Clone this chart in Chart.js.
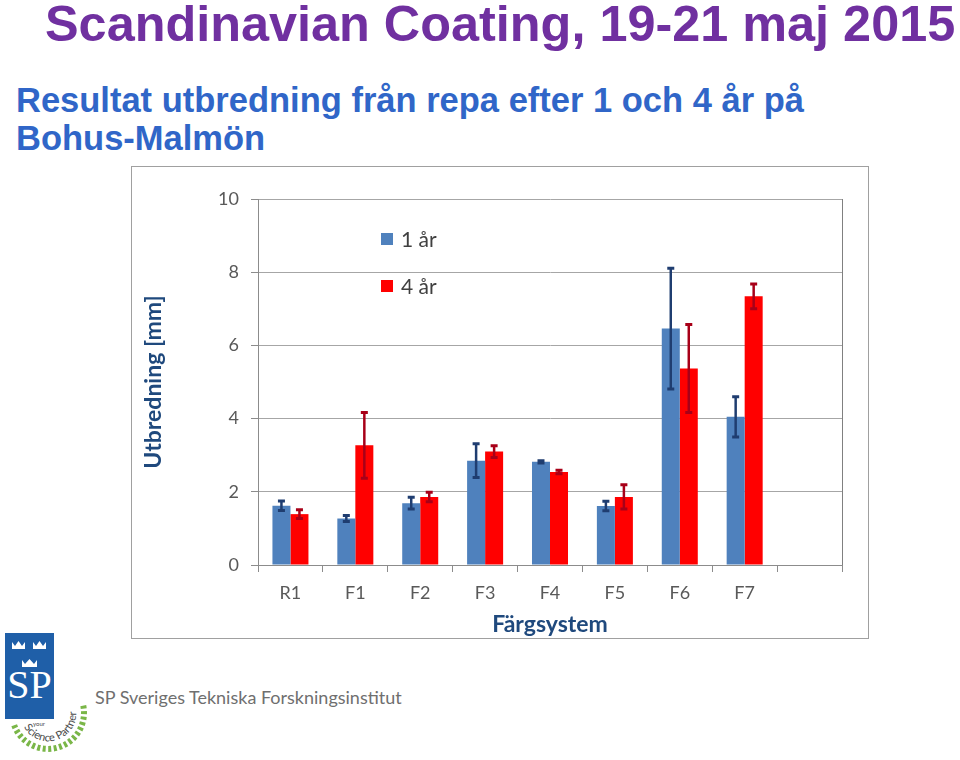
<!DOCTYPE html>
<html>
<head>
<meta charset="utf-8">
<script src="https://cdn.jsdelivr.net/npm/chart.js@4.4.0/dist/chart.umd.min.js"></script>
<style>
    body { margin: 0; width: 960px; height: 760px; background: #fff; position: relative; overflow: hidden;
           font-family: "Liberation Sans", Arial, sans-serif; }
    #title { position: absolute; left: 45px; top: -1px; margin: 0; font-size: 50.4px; line-height: 50px;
             font-weight: bold; color: #7030A0; white-space: nowrap; }
    #subtitle { position: absolute; left: 16px; top: 81px; margin: 0; font-size: 34.5px; line-height: 38px;
                font-weight: bold; color: #3066C8; }
    #chart-box { position: absolute; left: 131px; top: 166px; width: 736px; height: 471px;
                 border: 1px solid #a0a0a0; }
    #logo { position: absolute; left: 0; top: 625px; }
    #org { position: absolute; left: 95px; top: 686px; font-family: Lato, sans-serif; font-size: 18px;
           color: #6f6f6f; white-space: nowrap; }
</style>
</head>
<body>
<h1 id="title">Scandinavian Coating, 19-21 maj 2015</h1>
<h2 id="subtitle">Resultat utbredning från repa efter 1 och 4 år på<br>Bohus-Malmön</h2>
<div id="chart-box"><canvas id="spread-chart" width="736" height="471"></canvas></div>

<svg id="logo" width="95" height="135" xmlns="http://www.w3.org/2000/svg">
    <rect x="5" y="8" width="49" height="86" fill="#1f5fa8"/>
    <g fill="#fff">
        <path d="M12 24 L12 17 L15 21 L18.5 16 L22 21 L25 17 L25 24 Z"/>
        <path d="M33 24 L33 17 L36 21 L39.5 16 L43 21 L46 17 L46 24 Z"/>
        <path d="M22 42 L22 35 L25 39 L29.5 34 L34 39 L37 35 L37 42 Z"/>
    </g>
    <text x="29.5" y="73" fill="#fff" font-family="Liberation Serif, serif" font-size="40"
          text-anchor="middle">SP</text>
    <defs>
        <path id="arc" d="M 23.8 102 A 28 28 0 1 0 69.4 70"/>
    </defs>
    <text font-family="Lato, sans-serif" font-size="11" fill="#4a4a4a">
        <textPath href="#arc">Science Partner</textPath>
    </text>
    <text x="33" y="101" font-family="Lato, sans-serif" font-size="6" fill="#4a4a4a">your</text>
    <path d="M 14.2 100.3 A 36 36 0 0 0 82.8 78.7" fill="none" stroke="#7ab648" stroke-width="6"
          stroke-dasharray="3 2.5"/>
</svg>
<div id="org">SP Sveriges Tekniska Forskningsinstitut</div>

<script>
// Chart data
const categories = ['R1', 'F1', 'F2', 'F3', 'F4', 'F5', 'F6', 'F7', ''];
const seriesNames = ['1 år', '4 år'];
const values1yr = [1.62, 1.27, 1.69, 2.85, 2.82, 1.61, 6.46, 4.05, null];
const values4yr = [1.39, 3.27, 1.86, 3.10, 2.54, 1.86, 5.37, 7.34, null];
const errors1yr = [0.13, 0.08, 0.16, 0.46, 0.03, 0.13, 1.65, 0.55, null];
const errors4yr = [0.12, 0.90, 0.13, 0.16, 0.05, 0.33, 1.20, 0.34, null];
const yTicks = [0, 2, 4, 6, 8, 10];

const tickFont = { family: 'Lato', size: 18 };
const titleFont = { family: 'Lato', size: 23, weight: 'bold' };

/**
 * Draws symmetric error bars on top of every bar
 */
const errorBarPlugin = {
    id: 'errorBars',
    afterDatasetsDraw(chart) {
        const ctx = chart.ctx;
        const yScale = chart.scales.y;
        chart.data.datasets.forEach((ds, i) => {
            const meta = chart.getDatasetMeta(i);
            meta.data.forEach((bar, j) => {
                const v = ds.data[j];
                const e = ds.errors[j];
                if (v == null || e == null) return;
                const top = yScale.getPixelForValue(v + e);
                const bottom = yScale.getPixelForValue(v - e);
                ctx.save();
                ctx.strokeStyle = ds.errorColor;
                ctx.lineWidth = 2.5;
                ctx.beginPath();
                ctx.moveTo(bar.x, top);
                ctx.lineTo(bar.x, bottom);
                ctx.stroke();
                ctx.lineWidth = 3;
                ctx.beginPath();
                ctx.moveTo(bar.x - 3.5, top);
                ctx.lineTo(bar.x + 3.5, top);
                ctx.moveTo(bar.x - 3.5, bottom);
                ctx.lineTo(bar.x + 3.5, bottom);
                ctx.stroke();
                ctx.restore();
            });
        });
    }
};

/**
 * Legend drawn inside the plot area, top left
 */
const insideLegendPlugin = {
    id: 'insideLegend',
    afterDraw(chart) {
        const { ctx, chartArea } = chart;
        chart.data.datasets.forEach((ds, i) => {
            const x = chartArea.left + 123;
            const y = chartArea.top + 40 + i * 47;
            ctx.save();
            ctx.fillStyle = ds.backgroundColor;
            ctx.fillRect(x, y - 6, 12, 12);
            ctx.fillStyle = '#404040';
            ctx.font = '21px Lato';
            ctx.textBaseline = 'middle';
            ctx.fillText(ds.label, x + 20, y + 1);
            ctx.restore();
        });
    }
};

new Chart(document.getElementById('spread-chart').getContext('2d'), {
    type: 'bar',
    data: {
        labels: categories,
        datasets: [
            {
                label: seriesNames[0],
                data: values1yr,
                errors: errors1yr,
                errorColor: '#1f3d70',
                backgroundColor: '#4f81bd',
                categoryPercentage: 0.555,
                barPercentage: 1.0
            },
            {
                label: seriesNames[1],
                data: values4yr,
                errors: errors4yr,
                errorColor: '#a80018',
                backgroundColor: '#ff0000',
                categoryPercentage: 0.555,
                barPercentage: 1.0
            }
        ]
    },
    options: {
        responsive: false,
        animation: false,
        layout: { padding: { top: 32, right: 26, left: 0, bottom: 0 } },
        plugins: {
            legend: { display: false },
            tooltip: { enabled: false }
        },
        scales: {
            x: {
                grid: {
                    offset: true,
                    // only the closing line on the right edge of the plot is visible
                    color: c => c.index === undefined ? '#808080' : 'rgba(0,0,0,0)',
                    tickColor: '#8c8c8c',
                    tickLength: 7
                },
                border: { color: '#8c8c8c' },
                ticks: { color: '#595959', font: tickFont, padding: 10, autoSkip: false, maxRotation: 0 },
                title: {
                    display: true,
                    text: 'Färgsystem',
                    color: '#1f497d',
                    font: titleFont,
                    padding: { top: 3, bottom: 0 }
                },
                afterFit: scale => { scale.height = 73; }
            },
            y: {
                min: 0,
                max: 10,
                afterBuildTicks: scale => { scale.ticks = yTicks.map(v => ({ value: v })); },
                grid: { color: '#a6a6a6', tickColor: '#8c8c8c', tickLength: 7 },
                border: { color: '#8c8c8c' },
                ticks: { color: '#595959', font: tickFont, padding: 12 },
                title: {
                    display: true,
                    text: 'Utbredning [mm]',
                    color: '#1f497d',
                    font: titleFont,
                    padding: { top: 8, bottom: 0 }
                },
                afterFit: scale => { scale.width = 126; }
            }
        }
    },
    plugins: [errorBarPlugin, insideLegendPlugin]
});
</script>
</body>
</html>
